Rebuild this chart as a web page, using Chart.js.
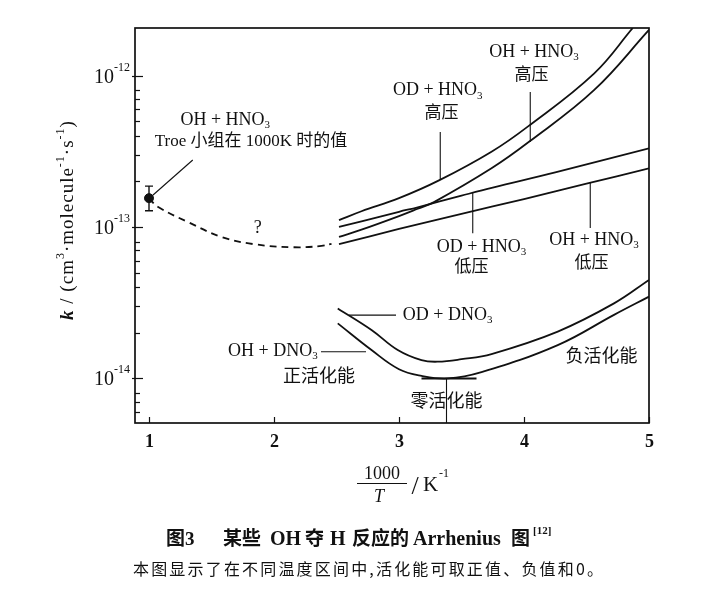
<!DOCTYPE html>
<html>
<head>
<meta charset="utf-8">
<script src="https://cdn.jsdelivr.net/npm/chart.js@4.4.0/dist/chart.umd.min.js"></script>
<style>
  html, body { margin: 0; padding: 0; background: #fff; }
  #wrap { width: 720px; height: 601px; }
</style>
</head>
<body>
<div id="wrap"><canvas id="arrhenius" width="720" height="601"></canvas></div>
<script>
// data: x = 1000/T (K^-1), k in cm3 molecule-1 s-1
const xTicks = [1, 2, 3, 4, 5];
const yDecades = [1e-15, 1e-14, 1e-13, 1e-12];
const yLabelDecades = [1e-14, 1e-13, 1e-12];
const yLabelExp = ['-14', '-13', '-12'];

const troeX = [1.0];
const troeK = [1.55e-13];
const troeErr = [1.28e-13, 1.86e-13];

// dashed extrapolation "?"
const guessX = [1.0, 1.07, 1.31, 1.58, 1.84, 2.16, 2.38, 2.46];
const guessK = [1.55e-13, 1.36e-13, 1.08e-13, 8.6e-14, 7.7e-14, 7.35e-14, 7.5e-14, 7.75e-14];

// OD + HNO3 high pressure
const odHighX = [2.52, 2.7, 3.0, 3.32, 3.74, 4.03, 4.56, 4.87];
const odHighK = [1.11e-13, 1.27e-13, 1.55e-13, 2.03e-13, 3.14e-13, 4.6e-13, 1.03e-12, 2.06e-12];

// OH + HNO3 high pressure
const ohHighX = [2.52, 2.7, 3.0, 3.15, 3.28, 3.74, 4.04, 4.56, 5.0];
const ohHighK = [8.6e-14, 9.6e-14, 1.18e-13, 1.32e-13, 1.46e-13, 2.44e-13, 3.65e-13, 8.0e-13, 2.0e-12];

// OD + HNO3 low pressure
const odLowX = [2.52, 2.7, 3.0, 3.15, 3.5, 3.75, 4.25, 5.0];
const odLowK = [1.0e-13, 1.09e-13, 1.26e-13, 1.35e-13, 1.61e-13, 1.82e-13, 2.29e-13, 3.31e-13];

// OH + HNO3 low pressure
const ohLowX = [2.52, 3.0, 3.5, 4.0, 4.5, 5.0];
const ohLowK = [7.7e-14, 9.7e-14, 1.22e-13, 1.53e-13, 1.93e-13, 2.44e-13];

// OD + DNO3
const odDnoX = [2.51, 2.78, 2.99, 3.18, 3.31, 3.5, 3.74, 4.27, 4.72, 5.0];
const odDnoK = [2.9e-14, 2.09e-14, 1.54e-14, 1.32e-14, 1.29e-14, 1.34e-14, 1.45e-14, 2.04e-14, 3.13e-14, 4.47e-14];

// OH + DNO3
const ohDnoX = [2.51, 2.78, 3.0, 3.18, 3.39, 3.66, 4.27, 4.72, 5.0];
const ohDnoK = [2.31e-14, 1.54e-14, 1.15e-14, 1.04e-14, 1.0e-14, 1.1e-14, 1.66e-14, 2.63e-14, 3.47e-14];

// pointer lines, in data units [x1, k1, x2, k2]
const pointers = [
  [1.03, 1.62e-13, 1.35, 2.77e-13],
  [3.33, 4.24e-13, 3.33, 2.04e-13],
  [4.05, 7.78e-13, 4.05, 3.64e-13],
  [3.59, 1.68e-13, 3.59, 9.1e-14],
  [4.53, 1.96e-13, 4.53, 9.85e-14],
  [2.6, 2.62e-14, 2.976, 2.62e-14],
  [2.376, 1.5e-14, 2.736, 1.5e-14],
  [3.38, 1e-14, 3.38, 5.08e-15]
];
const zeroLine = [3.18, 3.62, 1e-14];

const hno3 = s => [[s + ' + HNO', ''], ['3', 'sub']];
const dno3 = s => [[s + ' + DNO', ''], ['3', 'sub']];
// annotations: parts, x, k, align, font size
const notes = [
  [hno3('OH'), 1.61, 5.08e-13, 'center', 18],
  [[['Troe 小组在 1000K 时的值', '']], 1.816, 3.64e-13, 'center', 17],
  [[['?', '']], 1.87, 9.85e-14, 'center', 18],
  [hno3('OD'), 3.31, 8.0e-13, 'center', 18],
  [[['高压', '']], 3.34, 5.57e-13, 'center', 17],
  [hno3('OH'), 4.08, 1.43e-12, 'center', 18],
  [[['高压', '']], 4.06, 1.0e-12, 'center', 17],
  [hno3('OD'), 3.66, 7.38e-14, 'center', 18],
  [[['低压', '']], 3.58, 5.37e-14, 'center', 17],
  [hno3('OH'), 4.56, 8.2e-14, 'center', 18],
  [[['低压', '']], 4.54, 5.78e-14, 'center', 17],
  [dno3('OD'), 3.03, 2.62e-14, 'left', 18],
  [dno3('OH'), 2.35, 1.52e-14, 'right', 18],
  [[['正活化能', '']], 2.36, 1.02e-14, 'center', 18],
  [[['零活化能', '']], 3.38, 7.0e-15, 'center', 18],
  [[['负活化能', '']], 4.62, 1.39e-14, 'center', 18]
];

// caption words and their left edges
const capWords = ['图3', '某些', 'OH', '夺', 'H', '反应的', 'Arrhenius', '图'];
const capLeft = [166, 223, 270, 305, 330, 352, 413, 511];

const SERIF = '"Liberation Serif", "Noto Sans CJK SC"';

function pts(xs, ks) {
  return xs.map((v, i) => ({ x: v, y: ks[i] }));
}

function curve(xs, ks, dash) {
  return {
    data: pts(xs, ks),
    borderColor: '#111',
    borderWidth: 1.8,
    borderDash: dash || [],
    pointRadius: 0,
    fill: false,
    tension: 0.4
  };
}

function drawParts(ctx, parts, x, y, align, size) {
  const fontOf = kind => {
    if (kind === 'sub' || kind === 'sup') return Math.round(size * 0.62) + 'px ' + SERIF;
    if (kind === 'it') return 'italic bold ' + size + 'px "Liberation Serif"';
    return size + 'px ' + SERIF;
  };
  let w = 0;
  const widths = parts.map(p => {
    ctx.font = fontOf(p[1]);
    const m = ctx.measureText(p[0]).width;
    w += m;
    return m;
  });
  let cx = align === 'center' ? x - w / 2 : align === 'right' ? x - w : x;
  ctx.textAlign = 'left';
  parts.forEach((p, i) => {
    ctx.font = fontOf(p[1]);
    let dy = 0;
    if (p[1] === 'sub') dy = size * 0.3;
    if (p[1] === 'sup') dy = -size * 0.38;
    ctx.fillText(p[0], cx, y + dy);
    cx += widths[i];
  });
}

function fitText(ctx, text, left, right, y) {
  ctx.letterSpacing = '0px';
  const w = ctx.measureText(text).width;
  const n = Array.from(text).length;
  const sp = Math.max(0, (right - left - w) / (n - 1));
  ctx.letterSpacing = sp.toFixed(2) + 'px';
  ctx.textAlign = 'left';
  ctx.fillText(text, left, y);
  ctx.letterSpacing = '0px';
}

const decorations = {
  id: 'decorations',
  afterDraw(chart) {
    const { ctx, chartArea: a, scales: { x, y } } = chart;
    ctx.save();
    ctx.fillStyle = '#111';
    ctx.strokeStyle = '#111';

    // frame
    ctx.lineWidth = 1.7;
    ctx.strokeRect(a.left, a.top, a.right - a.left, a.bottom - a.top);

    // y ticks (inside) and labels
    ctx.lineWidth = 1.2;
    yDecades.forEach(d => {
      for (let m = 1; m <= 8; m++) {
        const v = m * d;
        if (v < y.min || v > y.max * 0.9) continue;
        const py = Math.round(y.getPixelForValue(v)) + 0.5;
        ctx.beginPath();
        ctx.moveTo(m === 1 ? a.left - 3 : a.left, py);
        ctx.lineTo(a.left + (m === 1 ? 8 : 5), py);
        ctx.stroke();
      }
    });
    ctx.textBaseline = 'alphabetic';
    yLabelDecades.forEach((d, i) => {
      const py = y.getPixelForValue(d);
      ctx.font = '20px "Liberation Serif"';
      ctx.textAlign = 'right';
      ctx.fillText('10', a.left - 21, py + 7);
      ctx.font = '12px "Liberation Serif"';
      ctx.textAlign = 'left';
      ctx.fillText(yLabelExp[i], a.left - 21, py - 5);
    });

    // x ticks (inside) and labels
    xTicks.forEach(t => {
      const px = Math.round(x.getPixelForValue(t)) + 0.5;
      ctx.beginPath();
      ctx.moveTo(px, a.bottom);
      ctx.lineTo(px, a.bottom - 6);
      ctx.stroke();
      ctx.font = 'bold 18px "Liberation Serif"';
      ctx.textAlign = 'center';
      ctx.fillText(String(t), px, a.bottom + 24);
    });

    // error bar on Troe point
    const ex = x.getPixelForValue(troeX[0]);
    const e1 = y.getPixelForValue(troeErr[0]);
    const e2 = y.getPixelForValue(troeErr[1]);
    ctx.lineWidth = 1.4;
    ctx.beginPath();
    ctx.moveTo(ex, e1); ctx.lineTo(ex, e2);
    ctx.moveTo(ex - 4, e1); ctx.lineTo(ex + 4, e1);
    ctx.moveTo(ex - 4, e2); ctx.lineTo(ex + 4, e2);
    ctx.stroke();

    // pointer lines
    ctx.lineWidth = 1.1;
    pointers.forEach(p => {
      ctx.beginPath();
      ctx.moveTo(x.getPixelForValue(p[0]), y.getPixelForValue(p[1]));
      ctx.lineTo(x.getPixelForValue(p[2]), y.getPixelForValue(p[3]));
      ctx.stroke();
    });
    // zero activation flat segment
    ctx.lineWidth = 2;
    ctx.beginPath();
    ctx.moveTo(x.getPixelForValue(zeroLine[0]), y.getPixelForValue(zeroLine[2]));
    ctx.lineTo(x.getPixelForValue(zeroLine[1]), y.getPixelForValue(zeroLine[2]));
    ctx.stroke();

    // annotations
    ctx.textBaseline = 'middle';
    notes.forEach(n => {
      drawParts(ctx, n[0], x.getPixelForValue(n[1]), y.getPixelForValue(n[2]), n[3], n[4]);
    });

    // y axis title
    ctx.save();
    ctx.translate(a.left - 67, 220);
    ctx.rotate(-Math.PI / 2);
    ctx.letterSpacing = '1px';
    drawParts(ctx, [['k', 'it'], [' / (cm', ''], ['3', 'sup'], ['·molecule', ''], ['-1', 'sup'],
      ['·s', ''], ['-1', 'sup'], [')', '']], 0, 0, 'center', 19);
    ctx.letterSpacing = '0px';
    ctx.restore();

    // x axis title: 1000/T / K^-1
    const fx = 382;
    ctx.textBaseline = 'alphabetic';
    ctx.textAlign = 'center';
    ctx.font = '18px "Liberation Serif"';
    ctx.fillText('1000', fx, 479);
    ctx.font = 'italic 18px "Liberation Serif"';
    ctx.fillText('T', fx - 3, 502);
    ctx.lineWidth = 1.1;
    ctx.beginPath();
    ctx.moveTo(fx - 25, 483.5); ctx.lineTo(fx + 25, 483.5);
    ctx.stroke();
    ctx.font = '26px "Liberation Serif"';
    ctx.fillText('/', fx + 33, 494);
    ctx.font = '21px "Liberation Serif"';
    ctx.textAlign = 'left';
    ctx.fillText('K', fx + 41, 491);
    ctx.font = '12px "Liberation Serif"';
    ctx.fillText('-1', fx + 57, 477);

    // caption
    ctx.textAlign = 'left';
    capWords.forEach((w, i) => {
      const latin = /^[A-Za-z0-9]+$/.test(w);
      ctx.font = latin ? 'bold 20px "Liberation Serif"' : 'bold 19px "Liberation Serif", "Noto Sans CJK SC"';
      ctx.fillText(w, capLeft[i], 545);
    });
    ctx.font = 'bold 11px "Liberation Serif"';
    ctx.fillText('[12]', 533, 534);
    ctx.font = '16px "Noto Sans CJK SC"';
    fitText(ctx, '本图显示了在不同温度区间中,活化能可取正值、负值和0。', 133, 603, 575);

    ctx.restore();
  }
};

new Chart(document.getElementById('arrhenius'), {
  type: 'line',
  data: {
    datasets: [
      curve(guessX, guessK, [7, 5]),
      curve(odHighX, odHighK),
      curve(ohHighX, ohHighK),
      curve(odLowX, odLowK),
      curve(ohLowX, ohLowK),
      curve(odDnoX, odDnoK),
      curve(ohDnoX, ohDnoK),
      {
        type: 'scatter',
        data: pts(troeX, troeK),
        pointRadius: 4.5,
        pointBackgroundColor: '#111',
        pointBorderColor: '#111',
        showLine: false
      }
    ]
  },
  options: {
    responsive: false,
    animation: false,
    layout: { padding: { left: 135, right: 71, top: 28, bottom: 178 } },
    plugins: { legend: { display: false }, tooltip: { enabled: false } },
    scales: {
      x: { type: 'linear', min: 0.888, max: 5, display: false },
      y: { type: 'logarithmic', min: 5.08e-15, max: 2.06e-12, display: false }
    }
  },
  plugins: [decorations]
});
</script>
</body>
</html>
